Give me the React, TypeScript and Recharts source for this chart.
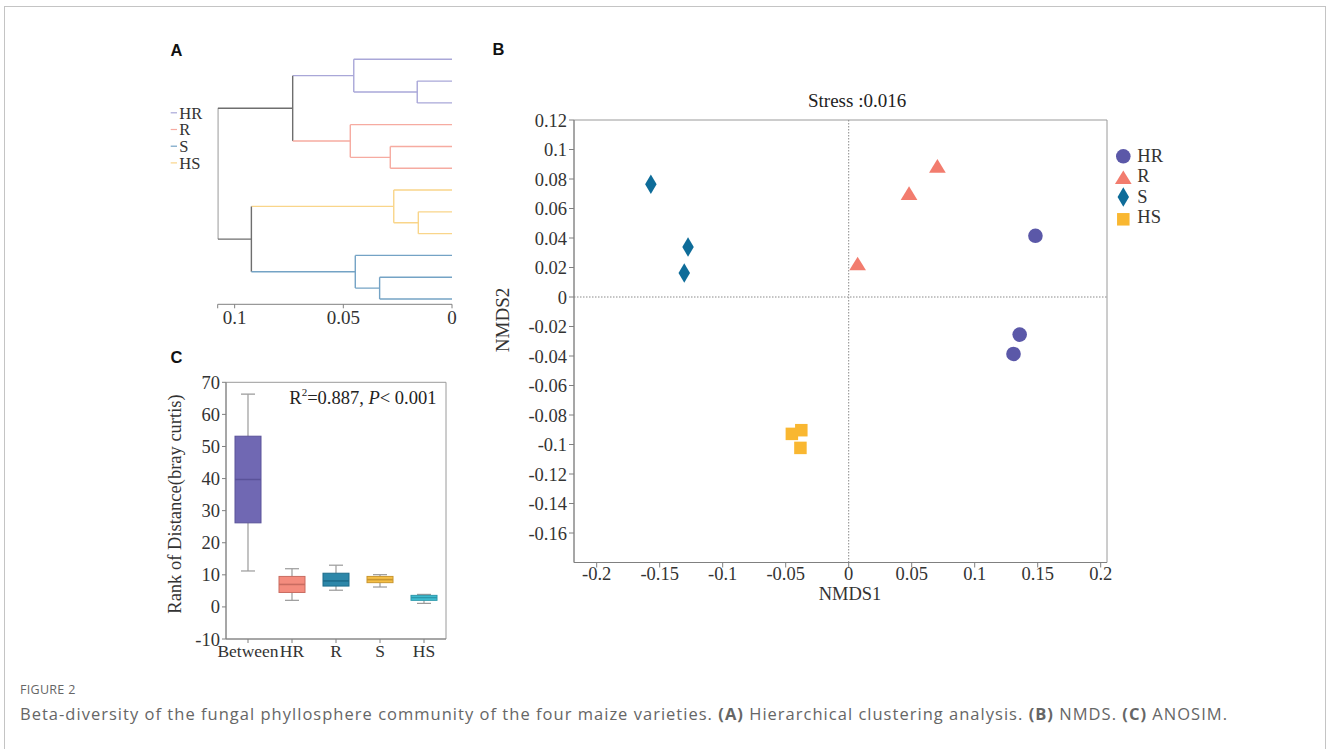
import React from 'react';
import {
  ScatterChart,
  Scatter,
  XAxis,
  YAxis,
  ReferenceLine,
  ReferenceArea,
  ComposedChart,
  Bar,
} from 'recharts';

const SERIF = '"Liberation Serif", "Times New Roman", Times, serif';
const SANS = '"Liberation Sans", Arial, sans-serif';
const CAPTION_FONT = '"Open Sans", "Noto Sans", sans-serif';
const TEXT = '#333';

// ---------------- Panel A: hierarchical clustering ----------------
const dendroGroups = ['HR', 'R', 'S', 'HS'];
const dendroColors: Record<string, string> = {
  HR: '#a9a7d8',
  R: '#f6aba1',
  S: '#74a3c5',
  HS: '#f9d58a',
  none: '#6e6e6e',
};
const leafGroups = ['HR', 'HR', 'HR', 'R', 'R', 'R', 'HS', 'HS', 'HS', 'S', 'S', 'S'];
const mergeIds = ['a', 'b', 'c', 'd', 'e', 'f', 'g', 'h', 'i', 'j', 'root'];
const mergeLeft = ['L1', 'L0', 'L4', 'L3', 'L7', 'L6', 'L10', 'L9', 'b', 'f', 'i'];
const mergeRight = ['L2', 'a', 'L5', 'c', 'L8', 'e', 'L11', 'g', 'd', 'h', 'j'];
const mergeHeights = [0.016, 0.0452, 0.0284, 0.0468, 0.0155, 0.0268, 0.0333, 0.0445, 0.0733, 0.0923, 0.1078];
const mergeGroups = ['HR', 'HR', 'R', 'R', 'HS', 'HS', 'S', 'S', 'none', 'none', 'none'];
const dendroMax = 0.1078;
const dendroTicks = [0.1078, 0.1, 0.05, 0];

// ---------------- Panel B: NMDS ----------------
const nmdsGroups = ['HR', 'R', 'S', 'HS'];
const nmdsColors: Record<string, string> = { HR: '#5b58a8', R: '#f27c6e', S: '#0e6c99', HS: '#f9b731' };
const hrX = [0.1482, 0.1357, 0.1308];
const hrY = [0.0415, -0.0255, -0.0386];
const rX = [0.0704, 0.0479, 0.0071];
const rY = [0.0889, 0.0704, 0.0227];
const sX = [-0.157, -0.1275, -0.1305];
const sY = [0.0765, 0.0339, 0.0162];
const hsX = [-0.0451, -0.0376, -0.0383];
const hsY = [-0.0928, -0.0903, -0.1023];
const nmdsXTicks = [-0.2, -0.15, -0.1, -0.05, 0, 0.05, 0.1, 0.15, 0.2];
const nmdsYTicks = [0.12, 0.1, 0.08, 0.06, 0.04, 0.02, 0, -0.02, -0.04, -0.06, -0.08, -0.1, -0.12, -0.14, -0.16];
const nmdsXDomain = [-0.218, 0.205];
const nmdsYDomain = [-0.18, 0.12];

// ---------------- Panel C: ANOSIM ----------------
const boxCategories = ['Between', 'HR', 'R', 'S', 'HS'];
const boxMin = [11.2, 2.05, 5.2, 6.2, 1.1];
const boxQ1 = [26.2, 4.5, 6.5, 7.56, 2.05];
const boxMedian = [39.7, 7.0, 8.1, 8.5, 2.9];
const boxQ3 = [53.2, 9.5, 10.5, 9.5, 3.6];
const boxMax = [66.3, 11.9, 13.0, 10.05, 3.9];
const boxFills = ['#7068b3', '#f48c7e', '#2d87a9', '#f5bf48', '#42c1d6'];
const boxStrokes = ['#5a5299', '#c96c61', '#1d6c8b', '#c9962f', '#2b98ab'];
const rankTicks = [-10, 0, 10, 20, 30, 40, 50, 60, 70];

// ---------- derived structures ----------
type Node = { h: number; y: number; group: string };
const nodes: Record<string, Node> = {};
leafGroups.forEach((g, i) => {
  nodes['L' + i] = { h: 0, y: i, group: g };
});
mergeIds.forEach((id, k) => {
  const l = nodes[mergeLeft[k]];
  const r = nodes[mergeRight[k]];
  nodes[id] = { h: mergeHeights[k], y: (l.y + r.y) / 2, group: mergeGroups[k] };
});
const dendroSegments: { key: string; color: string; points: { x: number; y: number }[] }[] = [];
mergeIds.forEach((id, k) => {
  const n = nodes[id];
  const l = nodes[mergeLeft[k]];
  const r = nodes[mergeRight[k]];
  dendroSegments.push({ key: id + 'l', color: dendroColors[l.group], points: [{ x: l.h, y: l.y }, { x: n.h, y: l.y }] });
  dendroSegments.push({ key: id + 'v', color: dendroColors[n.group], points: [{ x: n.h, y: l.y }, { x: n.h, y: r.y }] });
  dendroSegments.push({ key: id + 'r', color: dendroColors[r.group], points: [{ x: n.h, y: r.y }, { x: r.h, y: r.y }] });
});

const zip = (xs: number[], ys: number[]) => xs.map((x, i) => ({ x, y: ys[i] }));
const nmdsData: Record<string, { x: number; y: number }[]> = {
  HR: zip(hrX, hrY),
  R: zip(rX, rY),
  S: zip(sX, sY),
  HS: zip(hsX, hsY),
};

const boxData = boxCategories.map((name, i) => ({
  name,
  min: boxMin[i],
  q1: boxQ1[i],
  median: boxMedian[i],
  q3: boxQ3[i],
  max: boxMax[i],
  fill: boxFills[i],
  stroke: boxStrokes[i],
}));

const fmtNum = (v: number) => String(Number(v.toFixed(3)));

// ---------- marker shapes ----------
const Marker = ({ kind, cx, cy, color }: { kind: string; cx: number; cy: number; color: string }) => {
  if (kind === 'HR') return <circle cx={cx} cy={cy} r={7.3} fill={color} />;
  if (kind === 'R') {
    const w = 16.7, h = 13.6;
    return <polygon points={`${cx},${cy - h / 2} ${cx + w / 2},${cy + h / 2} ${cx - w / 2},${cy + h / 2}`} fill={color} />;
  }
  if (kind === 'S') {
    const w = 11.5, h = 19.5;
    return <polygon points={`${cx},${cy - h / 2} ${cx + w / 2},${cy} ${cx},${cy + h / 2} ${cx - w / 2},${cy}`} fill={color} />;
  }
  const s = 12.5;
  return <rect x={cx - s / 2} y={cy - s / 2} width={s} height={s} fill={color} />;
};

const BoxShape = (props: any) => {
  const { x, y, width, height, payload } = props;
  if (!payload || x == null) return null;
  const top = Math.min(y, y + height);
  const bot = Math.max(y, y + height);
  const span = payload.max - payload.min;
  const p = (v: number) => bot - ((v - payload.min) / span) * (bot - top);
  const cx = x + width / 2;
  const cap = 14;
  const wc = '#9a9a9a';
  return (
    <g>
      <line x1={cx} x2={cx} y1={p(payload.max)} y2={p(payload.q3)} stroke={wc} strokeWidth={1.2} />
      <line x1={cx} x2={cx} y1={p(payload.q1)} y2={p(payload.min)} stroke={wc} strokeWidth={1.2} />
      <line x1={cx - cap / 2} x2={cx + cap / 2} y1={p(payload.max)} y2={p(payload.max)} stroke={wc} strokeWidth={1.2} />
      <line x1={cx - cap / 2} x2={cx + cap / 2} y1={p(payload.min)} y2={p(payload.min)} stroke={wc} strokeWidth={1.2} />
      <rect
        x={x}
        y={p(payload.q3)}
        width={width}
        height={p(payload.q1) - p(payload.q3)}
        fill={payload.fill}
        stroke={payload.stroke}
        strokeWidth={1}
      />
      <line x1={x} x2={x + width} y1={p(payload.median)} y2={p(payload.median)} stroke={payload.stroke} strokeWidth={1.6} />
    </g>
  );
};

const axisStroke = '#808080';

export default function App() {
  return (
    <div
      style={{
        position: 'absolute',
        left: 0,
        top: 0,
        width: 1328,
        height: 749,
        overflow: 'hidden',
        background: '#fff',
      }}
    >
      {/* frame */}
      <div
        style={{
          position: 'absolute',
          left: 4,
          top: 6,
          width: 1322,
          height: 800,
          borderLeft: '1px solid #c4c4c4',
          borderTop: '1px solid #c4c4c4',
          borderRight: '1px solid #c4c4c4',
          boxSizing: 'border-box',
        }}
      />

      {/* Panel A */}
      <div style={{ position: 'absolute', left: 150, top: 20 }}>
        <ScatterChart width={330} height={330} margin={{ top: 17.5, right: 28, bottom: 15.7, left: 67.7 }}>
          <XAxis
            type="number"
            dataKey="x"
            domain={[0, dendroMax]}
            reversed
            allowDataOverflow
            ticks={dendroTicks}
            interval={0}
            tickFormatter={(v: number) => (v === dendroMax ? '' : fmtNum(v))}
            height={30}
            tickSize={4}
            axisLine={{ stroke: axisStroke }}
            tickLine={{ stroke: axisStroke }}
            tick={{ fontFamily: SERIF, fontSize: 19, fill: TEXT }}
          />
          <YAxis type="number" dataKey="y" domain={[-1, 11.243]} reversed hide allowDataOverflow width={0} />
          {dendroSegments.map((s) => (
            <Scatter
              key={s.key}
              data={s.points}
              line={{ stroke: s.color, strokeWidth: 1.4 }}
              shape={() => <g />}
              isAnimationActive={false}
            />
          ))}
        </ScatterChart>
      </div>

      {/* Panel B */}
      <div style={{ position: 'absolute', left: 490, top: 80 }}>
        <ScatterChart width={700} height={540} margin={{ top: 40, right: 83, bottom: 27.5, left: 10 }}>
          <XAxis
            type="number"
            dataKey="x"
            domain={nmdsXDomain}
            allowDataOverflow
            ticks={nmdsXTicks}
            interval={0}
            tickFormatter={fmtNum}
            height={30}
            tickSize={5}
            axisLine={{ stroke: axisStroke }}
            tickLine={{ stroke: axisStroke }}
            tick={{ fontFamily: SERIF, fontSize: 18.5, fill: TEXT, dy: -3 }}
          />
          <YAxis
            type="number"
            dataKey="y"
            domain={nmdsYDomain}
            allowDataOverflow
            ticks={nmdsYTicks}
            interval={0}
            tickFormatter={fmtNum}
            width={74}
            tickSize={5}
            axisLine={{ stroke: axisStroke }}
            tickLine={{ stroke: axisStroke }}
            tick={{ fontFamily: SERIF, fontSize: 18.5, fill: TEXT }}
          />
          <ReferenceArea y1={nmdsYDomain[0]} y2={nmdsYDomain[1]} fill="none" stroke="#9a9a9a" strokeWidth={1} />
          <ReferenceLine x={0} stroke="#8a8a8a" strokeDasharray="1.5 1.5" />
          <ReferenceLine y={0} stroke="#8a8a8a" strokeDasharray="1.5 1.5" />
          {nmdsGroups.map((g) => (
            <Scatter
              key={g}
              name={g}
              data={nmdsData[g]}
              fill={nmdsColors[g]}
              isAnimationActive={false}
              shape={(p: any) => <Marker kind={g} cx={p.cx} cy={p.cy} color={nmdsColors[g]} />}
            />
          ))}
        </ScatterChart>
      </div>

      {/* Panel C */}
      <div style={{ position: 'absolute', left: 150, top: 340 }}>
        <ComposedChart width={320} height={330} data={boxData} margin={{ top: 42.3, right: 24, bottom: 5, left: 20 }}>
          <XAxis
            dataKey="name"
            type="category"
            height={26}
            tickSize={4}
            interval={0}
            axisLine={{ stroke: axisStroke }}
            tickLine={{ stroke: axisStroke }}
            tick={{ fontFamily: SERIF, fontSize: 17.5, fill: TEXT }}
          />
          <YAxis
            type="number"
            domain={[-10, 70]}
            ticks={rankTicks}
            interval={0}
            allowDataOverflow
            width={56}
            tickSize={4}
            axisLine={{ stroke: axisStroke }}
            tickLine={{ stroke: axisStroke }}
            tick={{ fontFamily: SERIF, fontSize: 18.5, fill: TEXT }}
          />
          <ReferenceArea y1={-10} y2={70} fill="none" stroke="#9a9a9a" strokeWidth={1} />
          <Bar
            dataKey={(d: any) => [d.min, d.max]}
            barSize={26}
            shape={BoxShape}
            isAnimationActive={false}
          />
        </ComposedChart>
      </div>

      {/* annotations */}
      <svg
        width={1328}
        height={749}
        style={{ position: 'absolute', left: 0, top: 0, pointerEvents: 'none' }}
      >
        <text x={170.5} y={55.5} fontFamily={SANS} fontWeight="bold" fontSize={16.5} fill="#111">A</text>
        <text x={492.5} y={54.8} fontFamily={SANS} fontWeight="bold" fontSize={16.5} fill="#111">B</text>
        <text x={170.5} y={363.2} fontFamily={SANS} fontWeight="bold" fontSize={16.5} fill="#111">C</text>

        {dendroGroups.map((g, i) => (
          <g key={g}>
            <line x1={170.7} x2={177} y1={112.8 + i * 16.7} y2={112.8 + i * 16.7} stroke={dendroColors[g]} strokeWidth={1.2} />
            <text x={179.3} y={118.6 + i * 16.7} fontFamily={SERIF} fontSize={16.5} fill={TEXT}>{g}</text>
          </g>
        ))}

        <text x={808} y={107} fontFamily={SERIF} fontSize={19} fill="#222">Stress :0.016</text>
        {nmdsGroups.map((g, i) => {
          const ys = [156.3, 177.3, 197, 219.3];
          const bs = [161.7, 182.3, 202.7, 223.3];
          return (
            <g key={g}>
              <Marker kind={g} cx={1123.3} cy={ys[i]} color={nmdsColors[g]} />
              <text x={1137.3} y={bs[i]} fontFamily={SERIF} fontSize={18.5} fill={TEXT}>{g}</text>
            </g>
          );
        })}
        <text x={850} y={600} textAnchor="middle" fontFamily={SERIF} fontSize={18.5} fill={TEXT}>NMDS1</text>
        <text x={509} y={320} transform="rotate(-90 509 320)" textAnchor="middle" fontFamily={SERIF} fontSize={19} fill={TEXT}>NMDS2</text>

        <text x={181} y={504} transform="rotate(-90 181 504)" textAnchor="middle" fontFamily={SERIF} fontSize={18.5} fill={TEXT}>
          Rank of Distance(bray curtis)
        </text>
        <text x={289.3} y={404} fontFamily={SERIF} fontSize={18.5} fill="#222">
          R<tspan fontSize={11} dy={-8}>2</tspan>
          <tspan dy={8}>=0.887, </tspan>
          <tspan fontStyle="italic">P</tspan>
          <tspan>{'< 0.001'}</tspan>
        </text>

        <text x={20} y={694} fontFamily={CAPTION_FONT} fontSize={12.5} fill="#666" letterSpacing={0.3}>FIGURE 2</text>
        <text x={20} y={720} fontFamily={CAPTION_FONT} fontSize={16.5} fill="#666" textLength={1207} lengthAdjust="spacing">
          Beta-diversity of the fungal phyllosphere community of the four maize varieties.{' '}
          <tspan fontWeight="bold">(A)</tspan> Hierarchical clustering analysis. <tspan fontWeight="bold">(B)</tspan> NMDS.{' '}
          <tspan fontWeight="bold">(C)</tspan> ANOSIM.
        </text>
      </svg>
    </div>
  );
}
